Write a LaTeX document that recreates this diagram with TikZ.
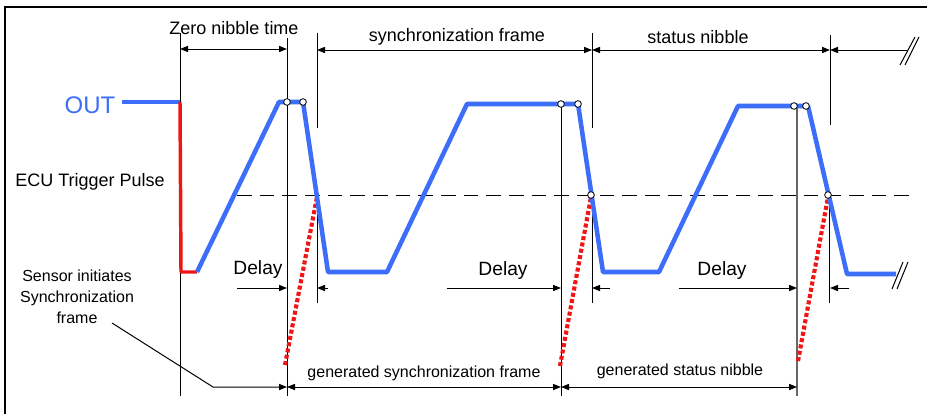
\documentclass[tikz,border=0pt]{standalone}
\usepackage{fontspec}
\setmainfont{Liberation Sans}
\usetikzlibrary{arrows.meta}
\definecolor{sigblue}{RGB}{60,110,250}
\definecolor{sigred}{RGB}{240,20,20}
\begin{document}
\begin{tikzpicture}[x=0.75pt,y=-0.75pt,
  frameline/.style={line width=1.1pt},
  guide/.style={line width=0.75pt},
  guidegray/.style={line width=0.9pt, draw=black!60},
  tipA/.tip={Triangle[length=6pt,width=4.6pt]},
  dimboth/.style={line width=0.75pt, tipA-tipA},
  dimone/.style={line width=0.75pt, -tipA},
  sig/.style={line width=3.4pt, draw=sigblue, line join=round},
  redsig/.style={line width=2.6pt, draw=sigred, line join=round},
  reddot/.style={line width=3.1pt, draw=sigred, dash pattern=on 3pt off 1.8pt},
  trig/.style={line width=0.75pt, dash pattern=on 11pt off 6pt},
  pt/.style={circle, draw=black, fill=white, line width=0.6pt, inner sep=0pt, minimum size=5pt},
  lbl/.style={inner sep=0pt, font=\fontsize{13.5}{16}\selectfont},
  lbls/.style={inner sep=0pt, font=\fontsize{12}{15.75}\selectfont, align=center},
  dly/.style={inner sep=0pt, font=\fontsize{14.4}{17}\selectfont}
]
\useasboundingbox (0,0) rectangle (927,414);
% frame
\draw[frameline] (5,414) -- (5,7) -- (927,7);

% guide lines
\draw[guide] (180,33) -- (180,396);
\draw[guide] (287,38) -- (287,396);
\draw[guide] (317,33) -- (317,128);
\draw[guide] (317,195) -- (317,303);
\draw[guide] (561,104) -- (561,396);
\draw[guide] (592,33) -- (592,128);
\draw[guide] (592,195) -- (592,303);
\draw[guidegray] (797,106) -- (797,396);
\draw[guide] (830,35) -- (830,125);
\draw[guide] (829,195) -- (829,303);

% trigger threshold
\draw[trig] (237,195) -- (910,195);

% red dotted generated edges
\draw[reddot] (285,365) -- (317,197);
\draw[reddot] (560,366) -- (591,197);
\draw[reddot] (798,361) -- (828,197);

% signal
\draw[sig] (122,102) -- (180,102);
\draw[redsig] (180,102) -- (181,272) -- (197,272);
\draw[sig] (197,272) -- (279,102) -- (303,102) -- (328,272) -- (387,272) -- (467,104) -- (578,104) -- (603,272) -- (659,272) -- (738,106) -- (808,106) -- (847,274) -- (896,274);

% break marks
\draw[guide] (892,289) -- (903,262);
\draw[guide] (897,289) -- (908,262);
\draw[guide] (900,65) -- (915,37);
\draw[guide] (905,65) -- (919,37);

% circles
\node[pt] (c1) at (287,102) {};
\node[pt] (c2) at (303,102) {};
\node[pt] (c3) at (561,104) {};
\node[pt] (c4) at (578,104) {};
\node[pt] (c5) at (591,195) {};
\node[pt] (c6) at (794,106) {};
\node[pt] (c7) at (806,106) {};
\node[pt] (c8) at (828,195) {};

% top dimension arrows
\coordinate (t0) at (180,49);
\coordinate (t1) at (287,49);
\coordinate (t2) at (317,50);
\coordinate (t3) at (592,50);
\coordinate (t4) at (830,50);
\coordinate (t5) at (907,50);
\draw[dimboth] (t0) -- (t1);
\draw[dimboth] (t2) -- (t3);
\draw[dimboth] (t3) -- (t4);
\draw[dimone] (t5) -- (t4);

% delay arrows
\coordinate (d1a) at (237,288); \coordinate (d1b) at (287,288);
\coordinate (d1c) at (328,288); \coordinate (d1d) at (317,288);
\coordinate (d2a) at (447,288); \coordinate (d2b) at (561,288);
\coordinate (d2c) at (610,288); \coordinate (d2d) at (592,288);
\coordinate (d3a) at (679,288); \coordinate (d3b) at (797,288);
\coordinate (d3c) at (849,288); \coordinate (d3d) at (830,288);
\draw[dimone] (d1a) -- (d1b);
\draw[dimone] (d1c) -- (d1d);
\draw[dimone] (d2a) -- (d2b);
\draw[dimone] (d2c) -- (d2d);
\draw[dimone] (d3a) -- (d3b);
\draw[dimone] (d3c) -- (d3d);

% bottom arrows
\coordinate (b0) at (112,323);
\coordinate (b1) at (213,387);
\coordinate (b2) at (287,387);
\coordinate (b3) at (561,387);
\coordinate (b4) at (797,387);
\draw[dimone] (b0) -- (b1) -- (b2);
\draw[dimboth] (b2) -- (b3);
\draw[dimboth] (b3) -- (b4);

% labels
\node[lbl] (zero) at (234,28) {Zero nibble time};
\node[lbl] (sync) at (457,37) {synchronization frame};
\node[lbl] (stat) at (698,37) {status nibble};
\node[inner sep=0pt, font=\fontsize{18}{20}\selectfont, text=sigblue] (out) at (90,105) {OUT};
\node[lbl] (ecu) at (90,182) {ECU Trigger Pulse};
\node[dly] (del1) at (258,270) {Delay};
\node[dly] (del2) at (503,271) {Delay};
\node[dly] (del3) at (722,271) {Delay};
\node[lbls] (sens) at (77,297) {Sensor initiates\\Synchronization\\frame};
\node[lbls] (gsync) at (424,373) {generated synchronization frame};
\node[lbls] (gstat) at (680,371) {generated status nibble};
\end{tikzpicture}
\end{document}
